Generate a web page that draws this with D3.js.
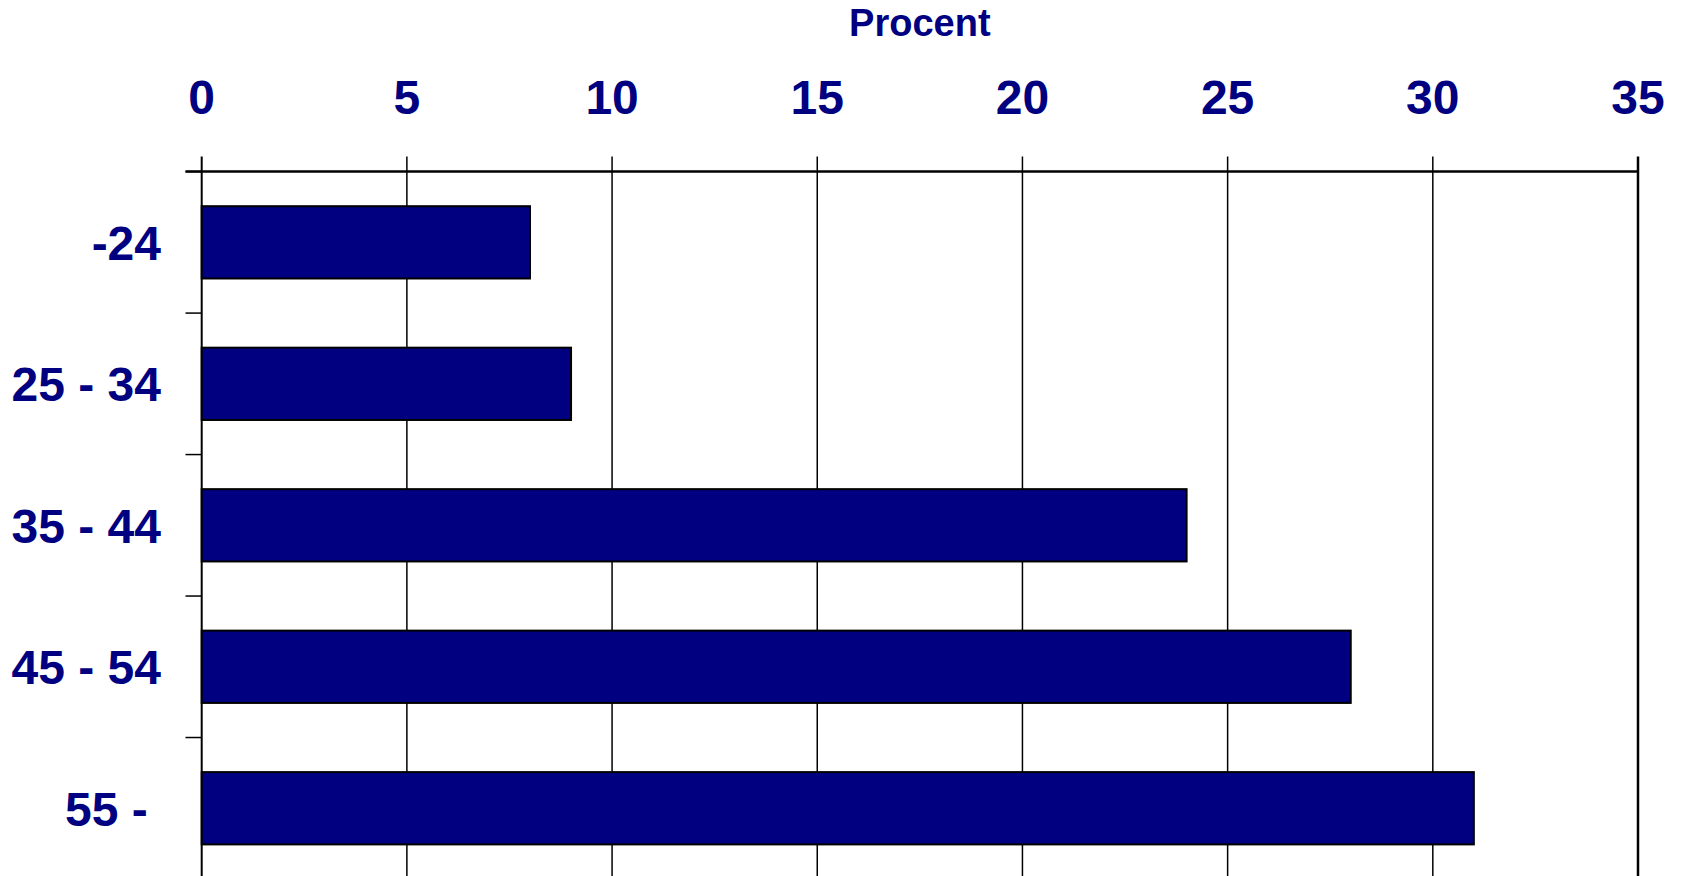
<!DOCTYPE html>
<html>
<head>
<meta charset="utf-8">
<script src="https://cdn.jsdelivr.net/npm/d3@7"></script>
<style>
  html, body { margin: 0; padding: 0; background: #fff; }
  svg { display: block; }
  text { font-family: "Liberation Sans", Arial, sans-serif; font-weight: bold; fill: #000080; }
</style>
</head>
<body>
<svg id="chart" width="1682" height="876"></svg>
<script>
const categories = ["-24", "25 - 34", "35 - 44", "45 - 54", "55 - "];
const values = [8, 9, 24, 28, 31];
const xTicks = [0, 5, 10, 15, 20, 25, 30, 35];
const xTitle = "Procent";

const W = 1682, H = 876;
const svg = d3.select("#chart");
const navy = "#000080";

const x = d3.scaleLinear().domain([0, 35]).range([201.7, 1638]);
const y = d3.scaleBand().domain(categories).range([171.6, 879]).padding(0);
const barFrac = 0.511;

// vertical gridlines
svg.append("g").selectAll("line").data(xTicks).join("line")
  .attr("x1", d => x(d)).attr("x2", d => x(d))
  .attr("y1", 156.5).attr("y2", H)
  .attr("stroke", "#000")
  .attr("stroke-width", d => (d === 35 ? 2.5 : d === 0 ? 2 : 1.5));

// top axis line
svg.append("line")
  .attr("x1", 185.5).attr("x2", x(35))
  .attr("y1", y.range()[0]).attr("y2", y.range()[0])
  .attr("stroke", "#000").attr("stroke-width", 2.5);

// y-axis ticks at band boundaries
svg.append("g").selectAll("line").data(categories).join("line")
  .attr("x1", 185.5).attr("x2", x(0))
  .attr("y1", d => y(d)).attr("y2", d => y(d))
  .attr("stroke", "#000").attr("stroke-width", 1.5);

// bars
const bh = y.bandwidth() * barFrac;
svg.append("g").selectAll("rect").data(categories).join("rect")
  .attr("x", x(0))
  .attr("y", d => y(d) + (y.bandwidth() - bh) / 2)
  .attr("width", (d, i) => x(values[i]) - x(0))
  .attr("height", bh)
  .attr("fill", navy)
  .attr("stroke", "#000")
  .attr("stroke-width", 2);

// x tick labels
svg.append("g").selectAll("text").data(xTicks).join("text")
  .attr("x", d => x(d)).attr("y", 114)
  .attr("text-anchor", "middle")
  .attr("font-size", 48)
  .text(d => d);

// y labels
svg.append("g").selectAll("text").data(categories).join("text")
  .attr("x", 161).attr("y", d => y(d) + y.bandwidth() / 2)
  .attr("dy", "0.36em")
  .attr("text-anchor", "end")
  .attr("font-size", 48)
  .style("white-space", "pre")
  .attr("xml:space", "preserve")
  .text(d => d);

// title
svg.append("text")
  .attr("x", (x(0) + x(35)) / 2).attr("y", 36)
  .attr("text-anchor", "middle")
  .attr("font-size", 38)
  .text(xTitle);
</script>
</body>
</html>
